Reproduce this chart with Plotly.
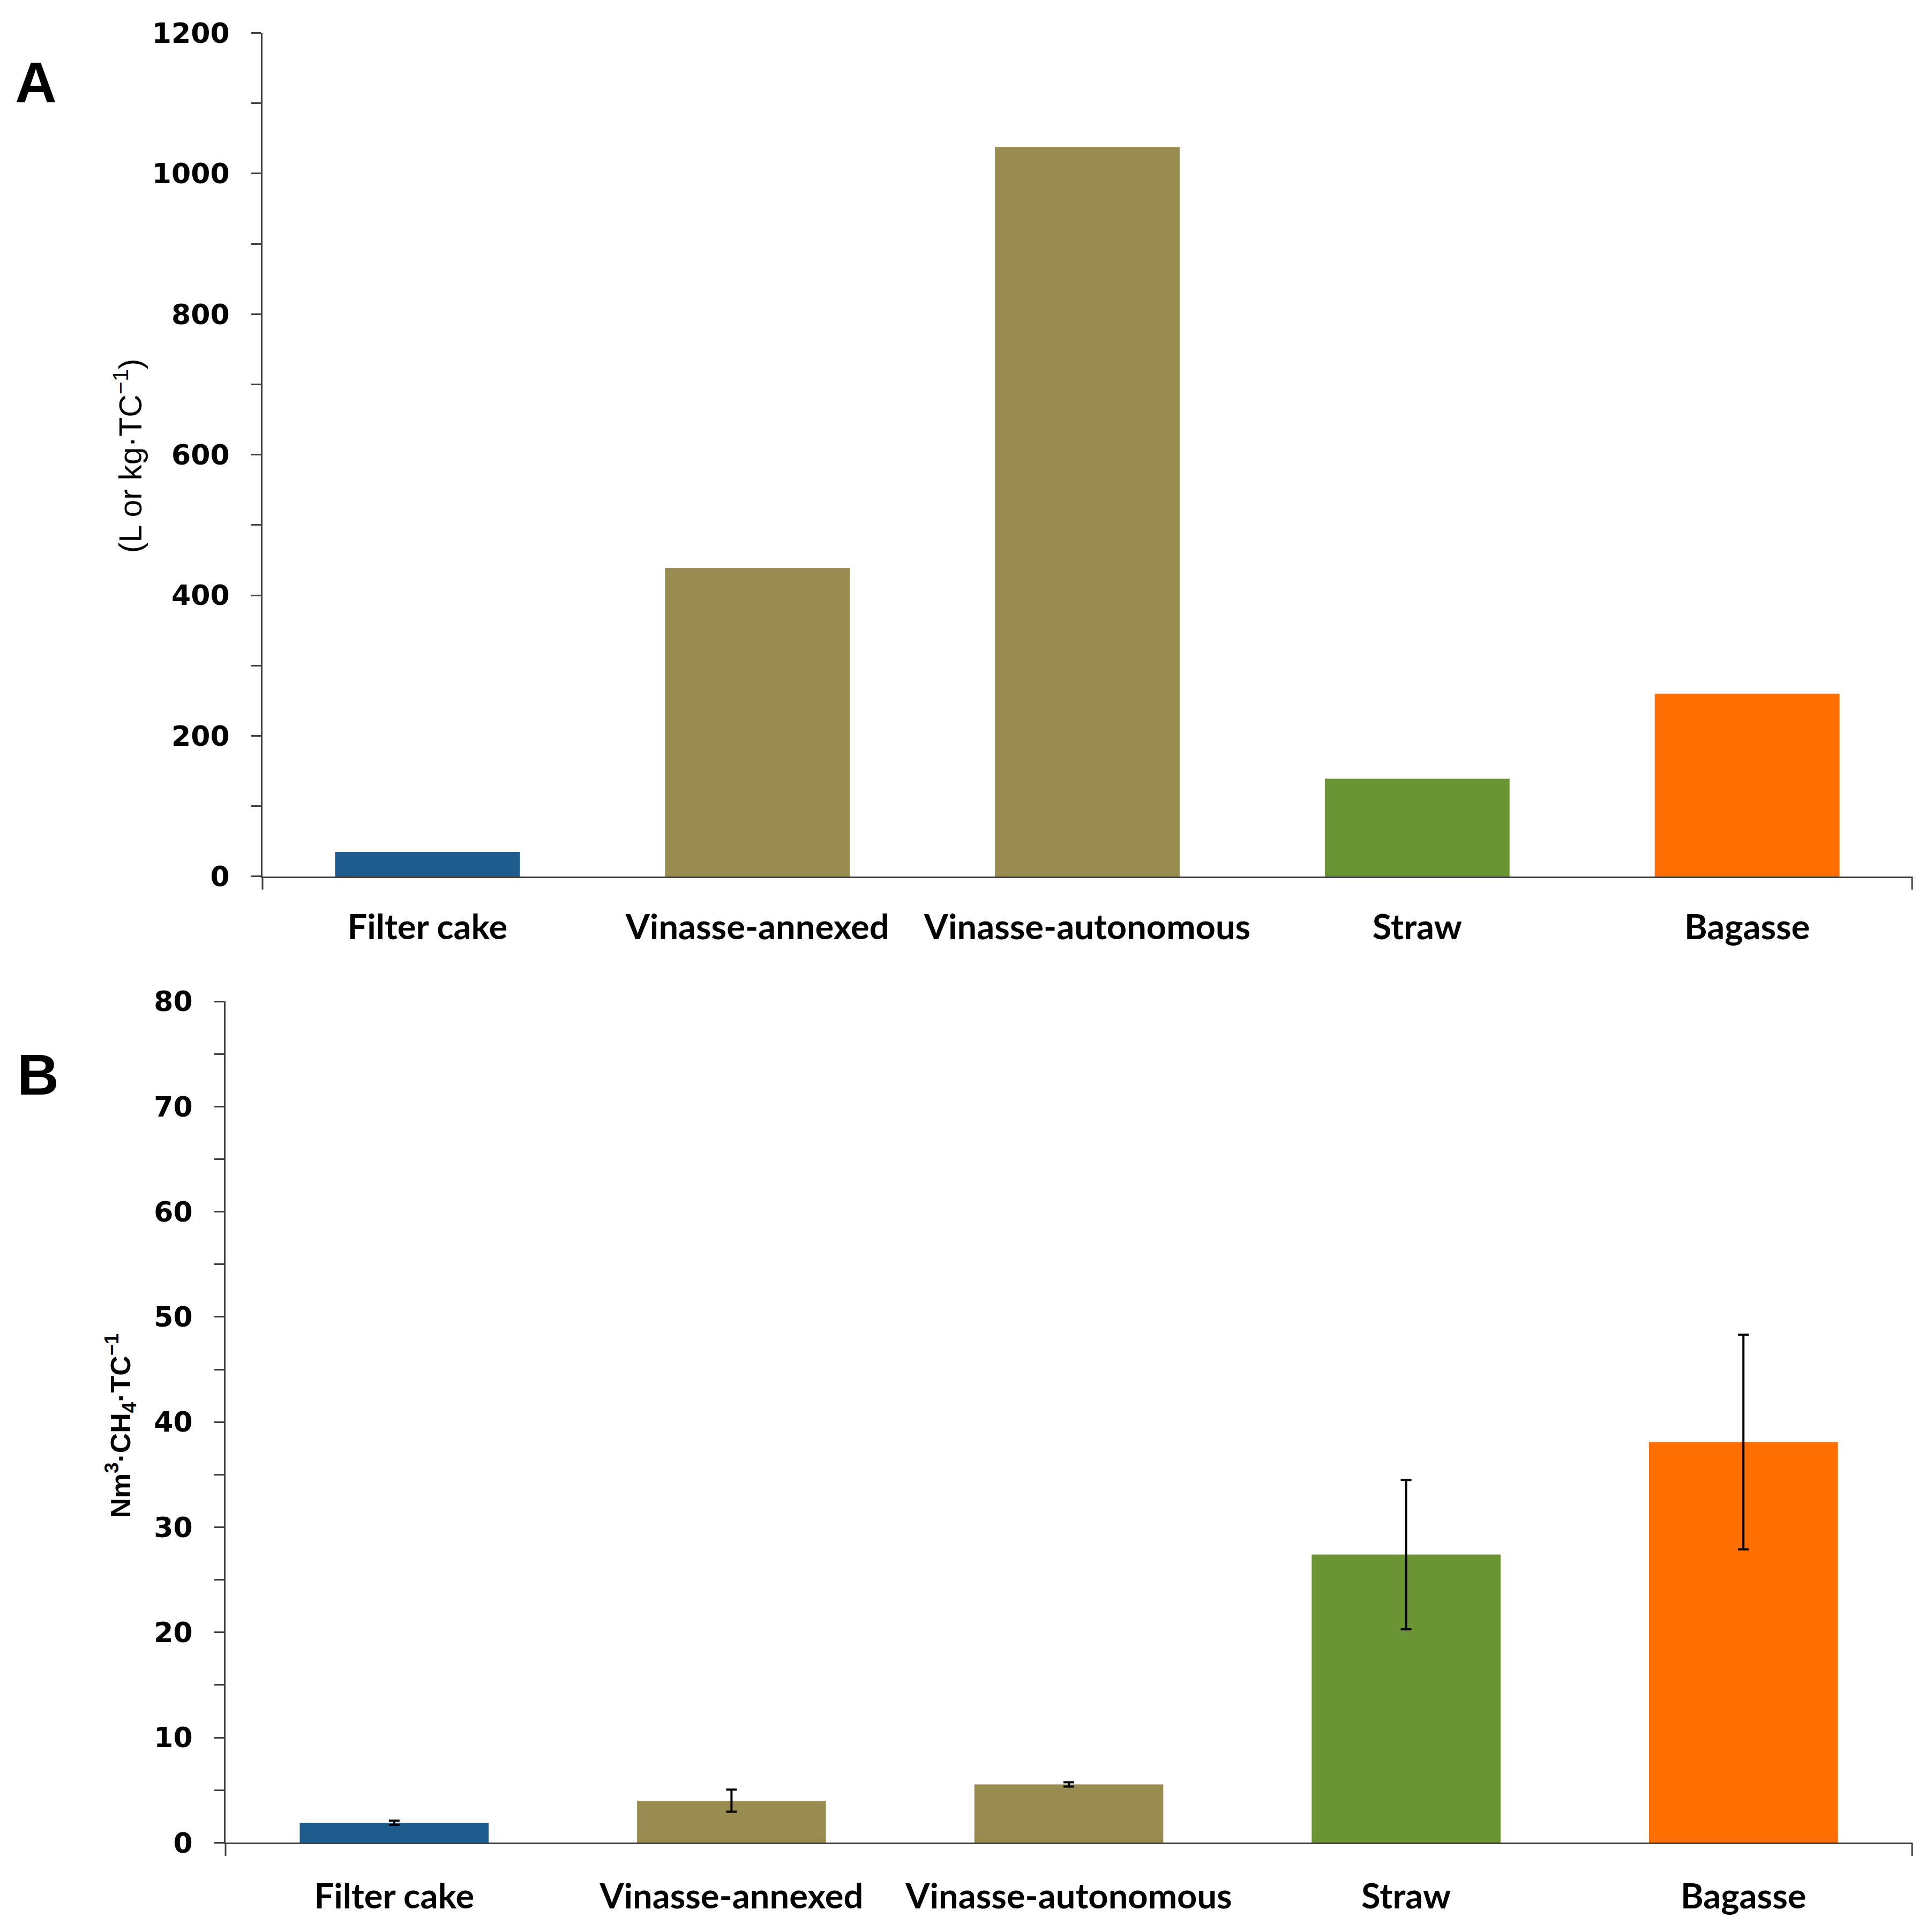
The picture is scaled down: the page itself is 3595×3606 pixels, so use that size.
import plotly.graph_objects as go

categories = ["Filter cake", "Vinasse-annexed", "Vinasse-autonomous", "Straw", "Bagasse"]
values_a = [35, 439, 1038, 139, 260]
values_b = [1.9, 4.0, 5.55, 27.4, 38.1]
errors_b = [0.2, 1.05, 0.2, 7.1, 10.2]
colors = ["#1F5C8E", "#998C50", "#998C50", "#6B9434", "#FF6E00"]
ticks_a = [0, 200, 400, 600, 800, 1000, 1200]
ticks_b = [0, 10, 20, 30, 40, 50, 60, 70, 80]

W, H = 3595, 3606
AX = "#404040"

fig = go.Figure()
fig.add_trace(go.Bar(x=categories, y=values_a, marker=dict(color=colors, line=dict(width=0)),
                     xaxis="x", yaxis="y", showlegend=False))
fig.add_trace(go.Bar(x=categories, y=values_b, marker=dict(color=colors, line=dict(width=0)),
                     error_y=dict(type="data", array=errors_b, visible=True, color="black",
                                  thickness=4, width=10),
                     xaxis="x2", yaxis="y2", showlegend=False))

tickfont = dict(family="DejaVu Sans", size=52, color="black", weight="bold")
catfont = dict(family="Lato", size=65, color="black", weight="bold")

yax_common = dict(showline=True, linecolor=AX, linewidth=3, ticks="outside", ticklen=18,
                  tickwidth=3, tickcolor=AX, showgrid=False, zeroline=False,
                  tickfont=tickfont, ticklabelstandoff=30)
xax_common = dict(showline=True, linecolor=AX, linewidth=3, ticks="", showgrid=False,
                  zeroline=False, tickfont=catfont,
                  categoryorder="array", categoryarray=categories)

A_top, A_bot, B_top, B_bot = 24, 1625, 1862, 3459
A_left, B_left, RIGHT = 482, 413, 3561

fig.update_layout(
    width=W, height=H,
    margin=dict(l=0, r=0, t=0, b=0),
    paper_bgcolor="white", plot_bgcolor="white",
    bargap=0.44,
    xaxis=dict(domain=[A_left / W, RIGHT / W], anchor="y", ticklabelstandoff=36, **xax_common),
    yaxis=dict(domain=[1 - A_bot / H, 1 - A_top / H], anchor="x", range=[0, 1200],
               tickvals=ticks_a, minor=dict(dtick=100, ticks="outside", ticklen=18,
                                             tickwidth=3, tickcolor=AX),
               **yax_common),
    xaxis2=dict(domain=[B_left / W, RIGHT / W], anchor="y2", ticklabelstandoff=42, **xax_common),
    yaxis2=dict(domain=[1 - B_bot / H, 1 - B_top / H], anchor="x2", range=[0, 80],
                tickvals=ticks_b, minor=dict(dtick=5, ticks="outside", ticklen=18,
                                              tickwidth=3, tickcolor=AX),
                **yax_common),
)

# small downward ticks at both ends of each category axis
for xr, yr, frac in [("x", "y", 25 / (A_bot - A_top)), ("x2", "y2", 25 / (B_bot - B_top))]:
    for xv in [0, 1]:
        fig.add_shape(type="line", xref=f"{xr} domain", yref=f"{yr} domain",
                      x0=xv, x1=xv, y0=0, y1=-frac, line=dict(color=AX, width=3))

fig.add_annotation(text="(L or kg·TC<sup>−1</sup>)", xref="paper", yref="paper",
                   x=231 / W, y=1 - 826 / H, xanchor="center", yanchor="middle",
                   textangle=-90, showarrow=False,
                   font=dict(family="Liberation Sans Narrow, Liberation Sans", size=59, color="black"))
fig.add_annotation(text="<b>Nm<sup>3</sup>·CH<sub>4</sub>·TC<sup>−1</sup></b>", xref="paper", yref="paper",
                   x=217 / W, y=1 - 2668 / H, xanchor="center", yanchor="middle",
                   textangle=-90, showarrow=False,
                   font=dict(family="Liberation Sans Narrow, Liberation Sans", size=52, color="black"))
fig.add_annotation(text="<b>A</b>", xref="paper", yref="paper", x=59 / W, y=1 - 117 / H,
                   xanchor="center", yanchor="middle", showarrow=False,
                   font=dict(family="Liberation Sans", size=108, color="black"))
fig.add_annotation(text="<b>B</b>", xref="paper", yref="paper", x=63 / W, y=1 - 2001 / H,
                   xanchor="center", yanchor="middle", showarrow=False,
                   font=dict(family="Liberation Sans", size=108, color="black"))

fig.write_html("out.html")
